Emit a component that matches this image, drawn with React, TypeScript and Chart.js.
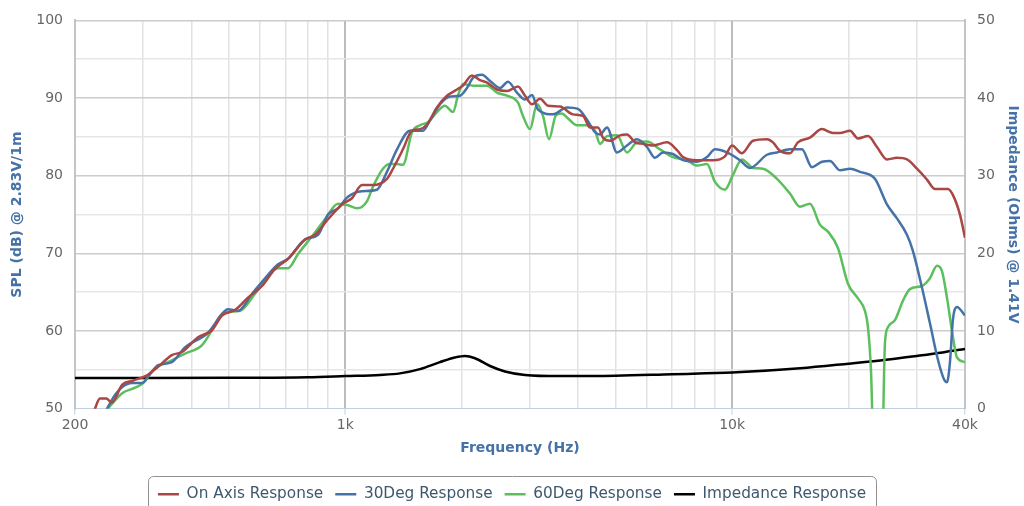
import React, { useEffect, useRef } from "react";
import { Chart, registerables } from "chart.js";

Chart.register(...registerables);

// ---- Data (frequency in Hz, SPL in dB, impedance in Ohms) ----
const ON_AXIS_FREQ = [224, 232, 241, 249, 265, 282, 307, 328, 356, 378, 416, 452, 480, 518, 560, 609, 658, 711, 787, 835, 902, 980, 1040, 1104, 1179, 1281, 1328, 1409, 1487, 1559, 1626, 1725, 1831, 1944, 2014, 2125, 2229, 2324, 2466, 2618, 2795, 2914, 3038, 3186, 3341, 3589, 3878, 4116, 4291, 4500, 4636, 4833, 5129, 5347, 5609, 5882, 6243, 6785, 7201, 7462, 8112, 8923, 9582, 9989, 10601, 11323, 12304, 12751, 13294, 14109, 14796, 15894, 17069, 18226, 19002, 20167, 21151, 22448, 23684, 25135, 26677, 28314, 30050, 31893, 33450, 36142, 37234, 38818, 40000];
const ON_AXIS_DB = [49.7, 51.3, 51.3, 50.8, 53.1, 53.6, 54.3, 55.4, 56.9, 57.3, 59.2, 60.1, 62.0, 62.7, 64.3, 65.8, 68.0, 69.3, 71.8, 72.4, 74.4, 76.3, 77.1, 78.8, 78.8, 79.6, 80.9, 83.4, 85.8, 86.0, 86.6, 88.8, 90.3, 91.1, 91.6, 92.9, 92.3, 92.0, 91.1, 90.9, 91.5, 90.3, 89.2, 89.9, 89.0, 88.9, 87.9, 87.7, 86.2, 86.2, 84.9, 84.5, 85.2, 85.3, 84.3, 84.1, 83.9, 84.3, 83.3, 82.4, 82.0, 82.0, 82.5, 83.9, 82.9, 84.5, 84.7, 84.3, 83.2, 82.9, 84.3, 84.9, 86.0, 85.5, 85.5, 85.8, 84.8, 85.1, 83.7, 82.1, 82.3, 82.1, 80.9, 79.5, 78.3, 78.3, 77.5, 75.0, 72.0];

const DEG30_FREQ = [239, 242, 254, 265, 281, 298, 313, 328, 356, 385, 442, 480, 497, 528, 574, 620, 670, 711, 787, 850, 902, 957, 1016, 1104, 1207, 1281, 1360, 1469, 1587, 1655, 1757, 1864, 1979, 2063, 2138, 2255, 2366, 2511, 2633, 2778, 2914, 3038, 3148, 3442, 3742, 3995, 4215, 4420, 4554, 4748, 5038, 5347, 5676, 6024, 6317, 6625, 7031, 7462, 8112, 8610, 9030, 9697, 10476, 11122, 12304, 13059, 14109, 15153, 16084, 17069, 17903, 19002, 20167, 21396, 23402, 25135, 26677, 28314, 29342, 30958, 32468, 34052, 35292, 35928, 36576, 37234, 38130, 40000];
const DEG30_DB = [49.5, 50.0, 51.8, 52.8, 53.3, 53.3, 54.5, 55.6, 56.0, 57.9, 59.8, 62.2, 62.8, 62.6, 64.8, 66.8, 68.6, 69.3, 71.8, 72.4, 75.0, 75.8, 77.3, 78.0, 78.2, 80.5, 83.4, 85.8, 85.8, 87.1, 89.2, 90.2, 90.3, 91.3, 92.6, 93.0, 92.2, 91.3, 92.1, 90.7, 89.8, 90.4, 88.5, 87.9, 88.8, 88.6, 87.2, 85.6, 85.3, 86.2, 83.0, 83.9, 84.7, 83.7, 82.3, 83.0, 82.8, 82.0, 81.8, 82.4, 83.4, 83.0, 82.0, 81.0, 82.7, 83.0, 83.4, 83.4, 81.1, 81.8, 81.9, 80.7, 80.9, 80.5, 79.6, 76.3, 74.5, 72.4, 70.3, 65.6, 61.0, 56.3, 53.8, 53.4, 56.0, 61.5, 63.1, 62.0];

const DEG60_FREQ = [243, 265, 286, 300, 322, 348, 385, 426, 452, 480, 509, 534, 584, 631, 670, 711, 754, 820, 886, 957, 1016, 1072, 1137, 1179, 1251, 1304, 1360, 1409, 1487, 1559, 1635, 1725, 1809, 1898, 1955, 2014, 2138, 2324, 2466, 2618, 2795, 2879, 3002, 3129, 3243, 3361, 3504, 3632, 3742, 3971, 4215, 4420, 4554, 4748, 5038, 5347, 5676, 6024, 6508, 7031, 7642, 8112, 8610, 9030, 9582, 10049, 10601, 11323, 12014, 13059, 14109, 14973, 15894, 16866, 17691, 18777, 19929, 21151, 22050, 22448, 22852, 23264, 24400, 24836, 25284, 26360, 27648, 28824, 30958, 32468, 33850, 34874, 35928, 37234, 38130, 40000];
const DEG60_DB = [50.0, 52.0, 52.7, 53.3, 55.2, 56.0, 57.1, 58.2, 60.1, 62.2, 62.5, 62.6, 64.8, 67.1, 68.1, 68.1, 69.9, 72.2, 74.4, 76.4, 76.2, 75.8, 76.7, 78.6, 80.9, 81.5, 81.5, 81.4, 85.6, 86.5, 86.9, 88.2, 89.0, 88.2, 90.3, 91.8, 91.6, 91.6, 90.7, 90.3, 89.4, 87.7, 86.0, 89.2, 87.7, 84.7, 87.8, 88.0, 87.5, 86.5, 86.5, 85.8, 84.1, 85.1, 85.2, 83.0, 84.3, 84.4, 83.4, 82.4, 82.0, 81.3, 81.5, 79.2, 78.2, 80.1, 82.1, 81.0, 80.9, 79.6, 77.7, 76.0, 76.4, 73.7, 72.8, 70.7, 66.1, 64.2, 62.6, 60.5, 55.0, 44.0, 44.0, 58.4, 60.5, 61.4, 63.9, 65.4, 65.8, 66.8, 68.4, 67.7, 64.3, 59.2, 56.6, 56.0];

const IMP_FREQ = [200, 300, 500, 800, 1000, 1229, 1384, 1559, 1756, 1921, 2038, 2164, 2366, 2586, 2914, 3590, 5000, 7000, 10000, 15000, 20000, 25000, 30000, 35000, 40000];
const IMP_OHMS = [3.95, 3.95, 3.97, 4.05, 4.2, 4.35, 4.55, 5.1, 6.0, 6.6, 6.8, 6.5, 5.5, 4.8, 4.35, 4.2, 4.25, 4.45, 4.65, 5.2, 5.8, 6.3, 6.8, 7.25, 7.7];

const SERIES_NAMES = ["On Axis Response", "30Deg Response", "60Deg Response", "Impedance Response"];
const SERIES_COLORS = ["#AA4643", "#4572A7", "#5CBF5E", "#000000"];

const X_TICKS = [200, 300, 400, 500, 600, 700, 800, 900, 1000, 2000, 3000, 4000, 5000, 6000, 7000, 8000, 9000, 10000, 20000, 30000, 40000];
const X_LABELS: Record<number, string> = { 200: "200", 1000: "1k", 10000: "10k", 40000: "40k" };

const pairs = (xs: number[], ys: number[]) => xs.map((x, i) => ({ x, y: ys[i] }));

const legendBox = {
  id: "legendBox",
  afterDraw(chart: any) {
    const lg = chart.legend;
    if (!lg || !lg.legendHitBoxes || !lg.legendHitBoxes.length) return;
    const hb = lg.legendHitBoxes;
    const l = Math.min(...hb.map((h: any) => h.left)) - 10;
    const r = Math.max(...hb.map((h: any) => h.left + h.width)) + 10;
    const t = lg.top + 1;
    const ctx = chart.ctx;
    ctx.save();
    ctx.strokeStyle = "#909090";
    ctx.lineWidth = 1;
    ctx.beginPath();
    ctx.roundRect(Math.round(l) + 0.5, Math.round(t) + 0.5, Math.round(r - l), 60, 5);
    ctx.stroke();
    ctx.restore();
  },
};

export default function App() {
  const ref = useRef<HTMLCanvasElement | null>(null);

  useEffect(() => {
    if (!ref.current) return;
    Chart.defaults.font.family = "'DejaVu Sans', sans-serif";
    const seriesData = [
      pairs(ON_AXIS_FREQ, ON_AXIS_DB),
      pairs(DEG30_FREQ, DEG30_DB),
      pairs(DEG60_FREQ, DEG60_DB),
      pairs(IMP_FREQ, IMP_OHMS),
    ];
    const chart = new Chart(ref.current, {
      type: "line",
      data: {
        datasets: seriesData.map((d, i) => ({
          label: SERIES_NAMES[i],
          data: d,
          borderColor: SERIES_COLORS[i],
          backgroundColor: SERIES_COLORS[i],
          borderWidth: 2.5,
          pointRadius: 0,
          cubicInterpolationMode: "monotone" as const,
          yAxisID: i === 3 ? "y1" : "y",
        })),
      },
      options: {
        animation: false,
        responsive: true,
        maintainAspectRatio: false,
        layout: { padding: { top: 17, left: 0, right: 0, bottom: 0 } },
        plugins: {
          tooltip: { enabled: false },
          legend: {
            position: "bottom",
            labels: {
              usePointStyle: true,
              pointStyle: "line",
              pointStyleWidth: 21,
              padding: 12,
              color: "#3E576F",
              font: { size: 15.3 },
            },
          },
        },
        scales: {
          x: {
            type: "logarithmic",
            min: 200,
            max: 40000,
            afterBuildTicks: (scale: any) => {
              scale.ticks = X_TICKS.map((v) => ({ value: v }));
            },
            afterFit: (scale: any) => {
              scale.height = 66;
            },
            ticks: {
              autoSkip: false,
              maxRotation: 0,
              minRotation: 0,
              padding: 2,
              color: "#666666",
              font: { size: 14 },
              callback: (v: any) => X_LABELS[Number(v)] ?? "",
            },
            grid: {
              drawTicks: true,
              tickLength: 6,
              color: (c: any) => {
                const v = c.tick && c.tick.value;
                if (v === 200 || v === 40000) return "rgba(0,0,0,0)";
                if (v === 1000 || v === 10000) return "#bcbcbc";
                return "#e2e2e2";
              },
              lineWidth: (c: any) => {
                const v = c.tick && c.tick.value;
                return v === 1000 || v === 10000 ? 2 : 1.5;
              },
              tickColor: (c: any) => {
                const v = c.tick && c.tick.value;
                return X_LABELS[v] ? "#C0D0E0" : "rgba(0,0,0,0)";
              },
              tickWidth: 1,
            },
            border: { color: "#C0D0E0", width: 1 },
            title: {
              display: true,
              text: "Frequency (Hz)",
              color: "#4572A7",
              font: { size: 14, weight: "bold" },
              padding: { top: 0, bottom: 18 },
            },
          },
          y: {
            position: "left",
            min: 50,
            max: 100,
            afterFit: (scale: any) => {
              scale.width = 75;
            },
            ticks: {
              stepSize: 5,
              padding: 12,
              color: "#666666",
              font: { size: 14 },
              callback: (v: any) => (Number(v) % 10 === 0 ? String(v) : ""),
            },
            grid: {
              drawTicks: false,
              color: (c: any) => {
                const v = c.tick && c.tick.value;
                if (v === 50) return "rgba(0,0,0,0)";
                return v % 10 === 0 ? "#cccccc" : "#e6e6e6";
              },
              lineWidth: 1.5,
            },
            border: { color: "#c4c4c4", width: 2 },
            title: {
              display: true,
              text: "SPL (dB) @ 2.83V/1m",
              color: "#4572A7",
              font: { size: 14, weight: "bold" },
              padding: { top: 9, bottom: 0 },
            },
          },
          y1: {
            position: "right",
            min: 0,
            max: 50,
            afterFit: (scale: any) => {
              scale.width = 59;
            },
            ticks: {
              stepSize: 10,
              padding: 12,
              color: "#666666",
              font: { size: 14 },
            },
            grid: { drawOnChartArea: false, drawTicks: false },
            border: { color: "#c4c4c4", width: 2 },
            title: {
              display: true,
              text: "Impedance (Ohms) @ 1.41V",
              color: "#4572A7",
              font: { size: 14, weight: "bold" },
              padding: { top: 3, bottom: 0 },
            },
          },
        },
      } as any,
      plugins: [legendBox],
    });
    return () => chart.destroy();
  }, []);

  return (
    <div style={{ position: "fixed", left: 0, top: 0, width: 1024, height: 512, background: "#ffffff" }}>
      <canvas ref={ref} />
    </div>
  );
}
